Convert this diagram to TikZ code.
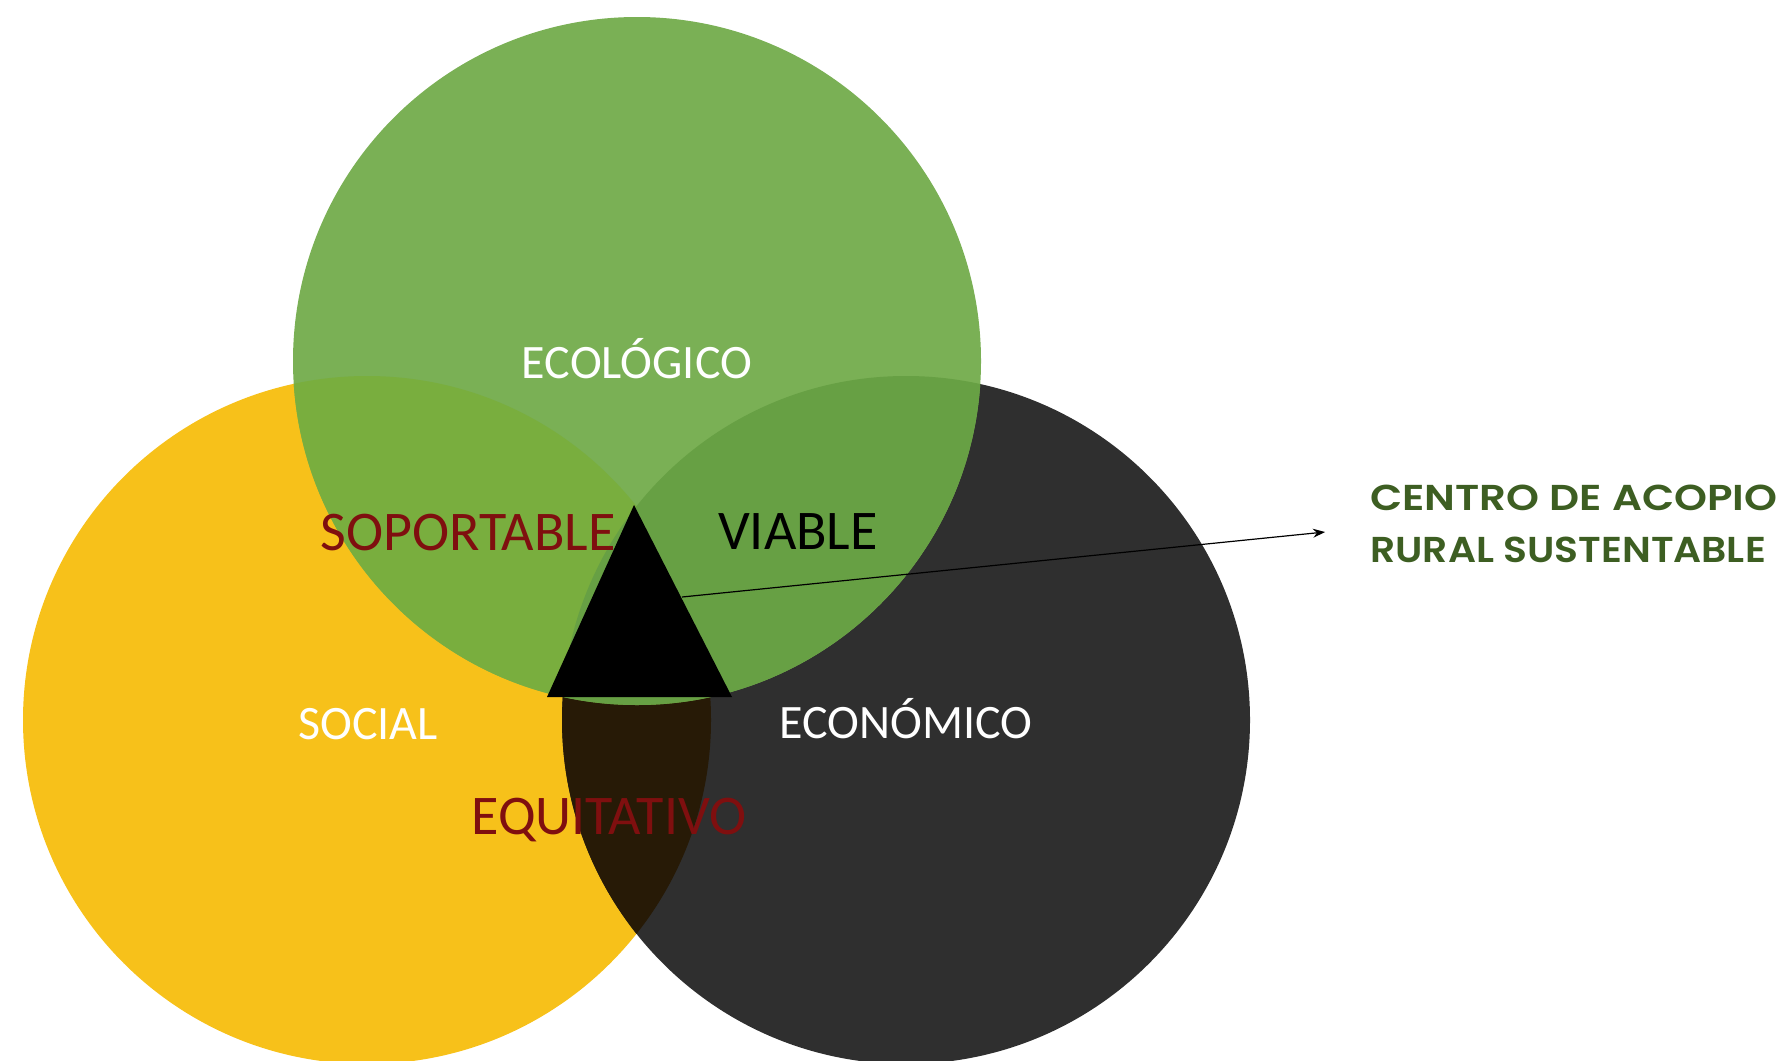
\documentclass[tikz,border=0pt]{standalone}
\usepackage{fontspec}
\setmainfont{Carlito}
\newfontfamily\gothic{Poppins}[UprightFont=* SemiBold]
\usetikzlibrary{arrows.meta}
\definecolor{cgreen}{HTML}{7AB055}
\definecolor{cyellow}{HTML}{F7C11A}
\definecolor{cdark}{HTML}{2F2F2F}
\definecolor{cgy}{HTML}{79AE3E}
\definecolor{cgd}{HTML}{67A044}
\definecolor{cyd}{HTML}{271A06}
\definecolor{cred}{HTML}{7F0F0F}
\definecolor{ctitle}{HTML}{3D5E22}
\tikzset{
  lbl/.style={anchor=base, inner sep=0pt, font=\fontsize{24}{28}\selectfont, text=white},
  biglbl/.style={anchor=base, inner sep=0pt, font=\fontsize{28}{32}\selectfont},
  ttl/.style={anchor=base west, inner sep=0pt, font=\gothic\fontsize{18}{20}\selectfont, text=ctitle},
}
\begin{document}
\begin{tikzpicture}[x=0.5pt,y=-0.5pt]
\useasboundingbox (0,0) rectangle (1786,1060);
\def\G{(637,361) circle (344)}
\def\Y{(367,720) circle (344)}
\def\D{(906,720) circle (344)}
\fill[cyellow] \Y;
\fill[cdark] \D;
\fill[cgreen] \G;
\begin{scope}\clip \Y; \fill[cyd] \D; \end{scope}
\begin{scope}\clip \G; \fill[cgy] \Y; \end{scope}
\begin{scope}\clip \G; \fill[cgd] \D; \end{scope}
\fill[black] (634,505) coordinate (apex) -- (547,697) coordinate (bl) -- (732,697) coordinate (br) -- cycle;
\coordinate (start) at (682,597);
\node[lbl] (eco) at (637,378) {ECOLÓGICO};
\node[lbl] (soc) at (368,739) {SOCIAL};
\node[lbl] (econ) at (906,738) {ECONÓMICO};
\node[biglbl, text=cred] (sop) at (468,550) {SOPORTABLE};
\node[biglbl, text=black] (via) at (798,549) {VIABLE};
\node[biglbl, text=cred] (equ) at (609,834) {EQUITATIVO};
\node[ttl] (t1) at (1370,510) {\scalebox{1.165}[1]{CENTRO DE ACOPIO}};
\node[ttl] (t2) at (1370,562) {\scalebox{1.09}[1]{RURAL SUSTENTABLE}};
\coordinate (tip) at (1325,532);
\draw[black, line width=0.6pt, -{Stealth[length=6pt,width=4.5pt]}] (start) -- (tip);
\end{tikzpicture}
\end{document}
